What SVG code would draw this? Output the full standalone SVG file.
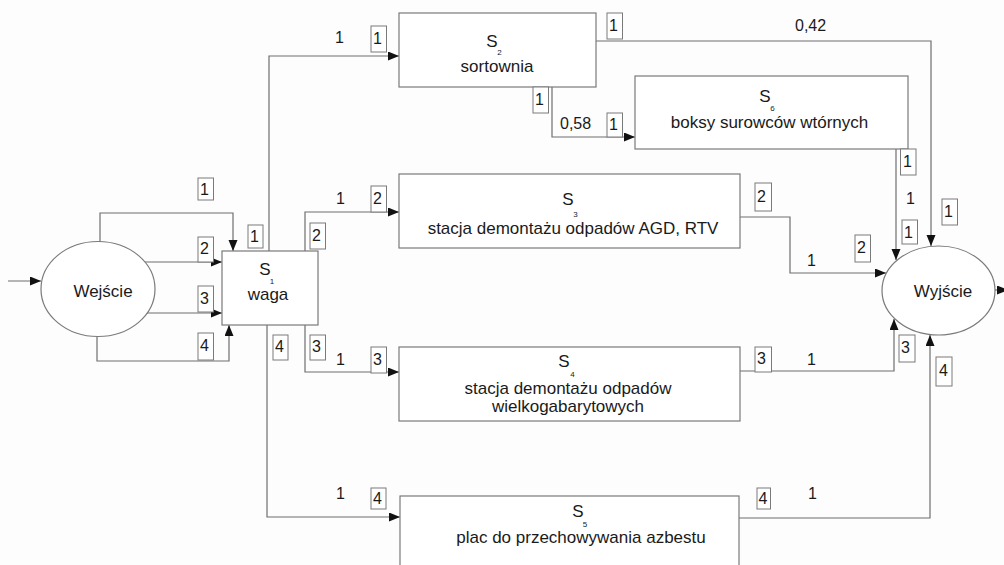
<svg xmlns="http://www.w3.org/2000/svg" width="1004" height="565" viewBox="0 0 1004 565">
<defs>
<marker id="arr" markerUnits="userSpaceOnUse" markerWidth="12" markerHeight="10" refX="11" refY="4.5" orient="auto">
<path d="M0,0 L11,4.5 L0,9 z" fill="#111"/>
</marker>
<style>
.c{fill:none;stroke:#6f6f6f;stroke-width:1.2}
.a{marker-end:url(#arr)}
.n{fill:#fff;stroke:#7a7a7a;stroke-width:1.2}
.t{font-family:"Liberation Sans",Arial,sans-serif;font-size:17px;fill:#1a1a1a;text-anchor:middle}
.s{font-family:"Liberation Sans",Arial,sans-serif;font-size:8px;fill:#1a1a1a;text-anchor:middle}
.l{font-family:"Liberation Sans",Arial,sans-serif;font-size:16px;fill:#1a1a1a}
.b{fill:#fff;stroke:#7a7a7a;stroke-width:1}
</style>
</defs>
<rect width="1004" height="565" fill="#fdfdfd"/>
<g id="connectors">
<path class="c a" d="M8,281 H41"/>
<path class="c a" d="M100,250 V213 H233 V251"/>
<path class="c a" d="M145,262 H222"/>
<path class="c a" d="M145,313 H222"/>
<path class="c a" d="M97,330 V361 H229 V325"/>
<path class="c a" d="M269,251 V56 H399"/>
<path class="c a" d="M305,251 V212 H399"/>
<path class="c a" d="M305,325 V372 H399"/>
<path class="c a" d="M267,325 V517 H400"/>
<path class="c a" d="M552,87 V137 H635"/>
<path class="c a" d="M596,41 H931 V246"/>
<path class="c a" d="M896,149 V260"/>
<path class="c a" d="M740,217 H790 V273 H886"/>
<path class="c a" d="M740,371 H894 V319"/>
<path class="c a" d="M739,518 H930 V335"/>
<path class="c a" d="M995,290 H1008"/>
</g>
<g id="wejscie">
<ellipse class="n" cx="98" cy="289" rx="57" ry="47.5"/>
<text class="t" x="103" y="297">Wejście</text>
</g>
<g id="wyjscie">
<ellipse class="n" cx="938.5" cy="290.5" rx="56.5" ry="44.5"/>
<text class="t" x="943" y="297">Wyjście</text>
</g>
<g id="s1">
<rect class="n" x="222" y="251" width="96" height="74"/>
<text class="t" x="265" y="275">S</text>
<text class="s" x="272" y="284">1</text>
<text class="t" x="268" y="300">waga</text>
</g>
<g id="s2">
<rect class="n" x="399" y="13" width="197" height="74"/>
<text class="t" x="492" y="47">S</text>
<text class="s" x="499.5" y="55">2</text>
<text class="t" x="497" y="72">sortownia</text>
</g>
<g id="s6">
<rect class="n" x="635" y="76" width="273" height="73"/>
<text class="t" x="765" y="102">S</text>
<text class="s" x="772.5" y="111">6</text>
<text class="t" x="769.5" y="128">boksy surowców wtórnych</text>
</g>
<g id="s3">
<rect class="n" x="399" y="174" width="341" height="74"/>
<text class="t" x="568" y="205">S</text>
<text class="s" x="575.5" y="217">3</text>
<text class="t" x="573" y="234">stacja demontażu odpadów AGD, RTV</text>
</g>
<g id="s4">
<rect class="n" x="399" y="347" width="341" height="74"/>
<text class="t" x="564" y="367">S</text>
<text class="s" x="572.5" y="377">4</text>
<text class="t" x="568" y="394">stacja demontażu odpadów</text>
<text class="t" x="568" y="412">wielkogabarytowych</text>
</g>
<g id="s5">
<rect class="n" x="400" y="496" width="339" height="80"/>
<text class="t" x="578" y="517">S</text>
<text class="s" x="585" y="527">5</text>
<text class="t" x="581" y="543">plac do przechowywania azbestu</text>
</g>
<g id="labels">
<rect class="b" x="198" y="178" width="15.5" height="22"/><text class="l" x="200" y="195">1</text>
<rect class="b" x="198" y="237" width="15.5" height="25"/><text class="l" x="200" y="254">2</text>
<rect class="b" x="198" y="286" width="15.5" height="26"/><text class="l" x="200" y="304">3</text>
<rect class="b" x="198" y="333" width="15.5" height="27"/><text class="l" x="200" y="351">4</text>
<rect class="b" x="248" y="225" width="15" height="23"/><text class="l" x="250" y="242">1</text>
<rect class="b" x="310" y="223" width="15.5" height="26"/><text class="l" x="312" y="241">2</text>
<rect class="b" x="273" y="335" width="15" height="25"/><text class="l" x="275" y="352">4</text>
<rect class="b" x="310" y="335" width="15.5" height="25"/><text class="l" x="312" y="352">3</text>
<rect class="b" x="371" y="26" width="15.5" height="26"/><text class="l" x="373" y="43.5">1</text>
<rect class="b" x="607" y="13" width="15.5" height="26"/><text class="l" x="609" y="31">1</text>
<rect class="b" x="533" y="87" width="15.5" height="26"/><text class="l" x="535" y="105">1</text>
<rect class="b" x="607" y="113" width="15.5" height="24"/><text class="l" x="609" y="130">1</text>
<rect class="b" x="371" y="186" width="15.5" height="26"/><text class="l" x="373" y="204">2</text>
<rect class="b" x="371" y="347" width="15.5" height="26"/><text class="l" x="373" y="365">3</text>
<rect class="b" x="371" y="488" width="15" height="21"/><text class="l" x="373" y="504">4</text>
<rect class="b" x="755" y="183" width="16.5" height="28"/><text class="l" x="757" y="202">2</text>
<rect class="b" x="855" y="235" width="15.5" height="27"/><text class="l" x="857" y="253">2</text>
<rect class="b" x="755" y="347" width="16.5" height="25"/><text class="l" x="757" y="364">3</text>
<rect class="b" x="900.5" y="149" width="15.5" height="26"/><text class="l" x="903" y="167">1</text>
<rect class="b" x="902" y="220" width="15.5" height="24"/><text class="l" x="904" y="238">1</text>
<rect class="b" x="942" y="199" width="15.5" height="26"/><text class="l" x="944" y="217">1</text>
<rect class="b" x="899" y="335" width="16" height="27"/><text class="l" x="901" y="353">3</text>
<rect class="b" x="936" y="357" width="16" height="29"/><text class="l" x="939" y="376">4</text>
<rect class="b" x="757" y="488" width="13.5" height="21"/><text class="l" x="758.5" y="504">4</text>
<text class="l" x="335" y="43">1</text>
<text class="l" x="795" y="31">0,42</text>
<text class="l" x="560" y="129">0,58</text>
<text class="l" x="336" y="204">1</text>
<text class="l" x="906" y="204">1</text>
<text class="l" x="807" y="266">1</text>
<text class="l" x="336" y="365">1</text>
<text class="l" x="807" y="365">1</text>
<text class="l" x="336" y="499">1</text>
<text class="l" x="808" y="499">1</text>
</g>
</svg>
